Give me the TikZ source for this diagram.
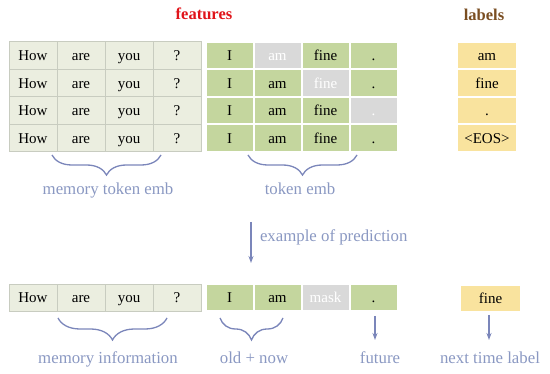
\documentclass[tikz,border=0pt]{standalone}
\usepackage{fontspec}
\setmainfont{Liberation Serif}
\usetikzlibrary{positioning,decorations.pathreplacing,arrows.meta}

\definecolor{memfill}{HTML}{EBEEE0}
\definecolor{memline}{HTML}{C8CCC0}
\definecolor{tokfill}{HTML}{C4D69E}
\definecolor{maskfill}{HTML}{D9D9D9}
\definecolor{labfill}{HTML}{F9E39E}
\definecolor{bracecol}{HTML}{7B86BA}
\definecolor{notecol}{HTML}{8A98C2}
\definecolor{titlered}{HTML}{E0141A}
\definecolor{titlebrown}{HTML}{7A4E22}

\tikzset{
  cell/.style={minimum width=48pt, minimum height=27.5pt, inner sep=0pt,
    text height=12.5pt, text depth=2.5pt, font=\fontsize{15}{17}\selectfont},
  mem/.style={cell, draw=memline, fill=memfill, line width=1pt},
  tok/.style={cell, draw=white, fill=tokfill, line width=2pt},
  masked/.style={tok, fill=maskfill, text=white},
  lab/.style={cell, draw=white, fill=labfill, line width=2pt, minimum width=60pt},
  title/.style={font=\fontsize{16.5}{19}\selectfont\bfseries},
  note/.style={text=notecol, text height=11.5pt, text depth=3.5pt,
    font=\fontsize{16.8}{19}\selectfont},
  curly/.style={draw=bracecol, line width=1.3pt, decorate,
    decoration={brace, mirror, amplitude=#1}},
  curly/.default=20pt,
  arr/.style={draw=bracecol, line width=1.3pt, -{Stealth[length=7pt,width=5pt]}}
}

\begin{document}
\begin{tikzpicture}[x=1pt, y=-1pt]
      \useasboundingbox (0,0) rectangle (550,374);

      % Titles
      \node[title, text=titlered] (feat) at (204,14) {features};
      \node[title, text=titlebrown] (labtitle) at (484,15) {labels};

      % Memory token table
      \foreach \r/\y in {1/55.75, 2/83.25, 3/110.75, 4/138.25} {
        \node[mem] (m\r-1) at (33,\y) {How};
        \node[mem] (m\r-2) at (81,\y) {are};
        \node[mem] (m\r-3) at (129,\y) {you};
        \node[mem] (m\r-4) at (177,\y) {?};
      }

      % Token table (grey cell = masked)
      \node[tok] (t1-1) at (229.5,55.75) {I};
      \node[masked] (t1-2) at (277.5,55.75) {am};
      \node[tok] (t1-3) at (325.5,55.75) {fine};
      \node[tok] (t1-4) at (373.5,55.75) {.};
      \node[tok] (t2-1) at (229.5,83.25) {I};
      \node[tok] (t2-2) at (277.5,83.25) {am};
      \node[masked] (t2-3) at (325.5,83.25) {fine};
      \node[tok] (t2-4) at (373.5,83.25) {.};
      \node[tok] (t3-1) at (229.5,110.75) {I};
      \node[tok] (t3-2) at (277.5,110.75) {am};
      \node[tok] (t3-3) at (325.5,110.75) {fine};
      \node[masked] (t3-4) at (373.5,110.75) {.};
      \node[tok] (t4-1) at (229.5,138.25) {I};
      \node[tok] (t4-2) at (277.5,138.25) {am};
      \node[tok] (t4-3) at (325.5,138.25) {fine};
      \node[tok] (t4-4) at (373.5,138.25) {.};

      % Label column
      \node[lab] (l1) at (487,55.75) {am};
      \node[lab] (l2) at (487,83.25) {fine};
      \node[lab] (l3) at (487,110.75) {.};
      \node[lab] (l4) at (487,138.25) {<EOS>};

      % Braces under the tables
      \coordinate (mb-l) at (52,155);
      \coordinate (mb-r) at (161,155);
      \coordinate (tb-l) at (248,155);
      \coordinate (tb-r) at (357,155);
      \draw[curly] (mb-l) -- (mb-r);
      \draw[curly] (tb-l) -- (tb-r);
      \node[note] (memtok) at (108,191) {memory token emb};
      \node[note] (tokemb) at (300,191) {token emb};

      % Prediction arrow
      \coordinate (pred-top) at (251,222);
      \coordinate (pred-end) at (251,263);
      \draw[arr] (pred-top) -- (pred-end);
      \node[note, anchor=west] (pred) at (256.5,238) {example of prediction};

      % Prediction row
      \node[mem, minimum height=27pt] (b-m1) at (33,298) {How};
      \node[mem, minimum height=27pt] (b-m2) at (81,298) {are};
      \node[mem, minimum height=27pt] (b-m3) at (129,298) {you};
      \node[mem, minimum height=27pt] (b-m4) at (177,298) {?};
      \node[tok, minimum height=27pt] (b-t1) at (229.5,298) {I};
      \node[tok, minimum height=27pt] (b-t2) at (277.5,298) {am};
      \node[masked, minimum height=27pt] (b-t3) at (325.5,298) {mask};
      \node[tok, minimum height=27pt] (b-t4) at (373.5,298) {.};
      \node[lab, minimum width=61pt, minimum height=27pt] (b-lab) at (490.5,298.5) {fine};

      % Braces and arrows under the prediction row
      \coordinate (mi-l) at (58,318);
      \coordinate (mi-r) at (167,318);
      \coordinate (on-l) at (220,318);
      \coordinate (on-r) at (283,318);
      \draw[curly=22pt] (mi-l) -- (mi-r);
      \draw[curly=22pt] (on-l) -- (on-r);
      \coordinate (fu-top) at (375,316);
      \coordinate (fu-end) at (375,340);
      \coordinate (nx-top) at (489,315);
      \coordinate (nx-end) at (489,340);
      \draw[arr] (fu-top) -- (fu-end);
      \draw[arr] (nx-top) -- (nx-end);
      \node[note] (meminfo) at (108,360) {memory information};
      \node[note] (oldnow) at (254,360) {old + now};
      \node[note] (future) at (380,360) {future};
      \node[note] (nextlab) at (490,360) {next time label};
\end{tikzpicture}
\end{document}
